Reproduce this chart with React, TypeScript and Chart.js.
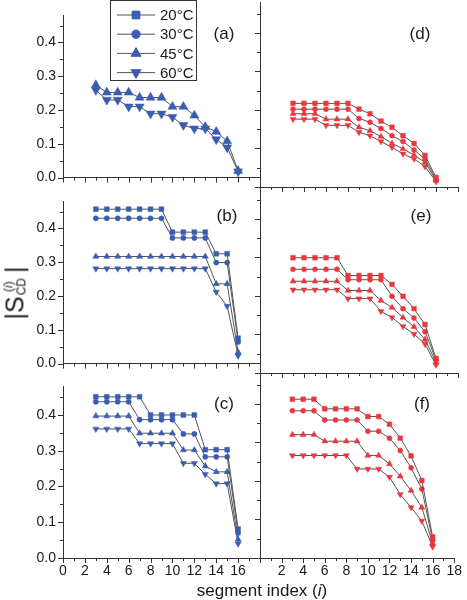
import React, { useEffect, useRef } from 'react';
import { Chart, registerables } from 'chart.js';
import { drawPoint } from 'chart.js/helpers';

Chart.register(...registerables);

// ---------- data ----------
const segments = [3, 4, 5, 6, 7, 8, 9, 10, 11, 12, 13, 14, 15, 16];
const temperatures = ['20°C', '30°C', '45°C', '60°C'];
const xTicksLeft = [0, 2, 4, 6, 8, 10, 12, 14, 16];
const xTicksRight = [2, 4, 6, 8, 10, 12, 14, 16, 18];
const yTickValues = [0, 0.1, 0.2, 0.3, 0.4];
const yTickLabels = ['0.0', '0.1', '0.2', '0.3', '0.4'];

// panel (a)
const a45 = [0.274, 0.252, 0.252, 0.252, 0.237, 0.237, 0.237, 0.210, 0.210, 0.184, 0.150, 0.136, 0.108, 0.020];
const a60 = [0.259, 0.230, 0.230, 0.210, 0.210, 0.189, 0.189, 0.179, 0.155, 0.145, 0.145, 0.113, 0.089, 0.018];
// panel (b)
const b20 = [0.457, 0.457, 0.457, 0.457, 0.457, 0.457, 0.457, 0.389, 0.389, 0.389, 0.389, 0.325, 0.325, 0.075];
const b30 = [0.430, 0.430, 0.430, 0.430, 0.430, 0.430, 0.430, 0.372, 0.372, 0.372, 0.372, 0.299, 0.299, 0.064];
const b45 = [0.317, 0.317, 0.317, 0.317, 0.317, 0.317, 0.317, 0.317, 0.317, 0.317, 0.317, 0.236, 0.236, 0.034];
const b60 = [0.281, 0.281, 0.281, 0.281, 0.281, 0.281, 0.281, 0.281, 0.281, 0.281, 0.281, 0.212, 0.170, 0.023];
// panel (c)
const c20 = [0.451, 0.451, 0.451, 0.451, 0.451, 0.400, 0.400, 0.400, 0.400, 0.400, 0.303, 0.303, 0.303, 0.081];
const c30 = [0.437, 0.437, 0.437, 0.437, 0.387, 0.387, 0.387, 0.387, 0.347, 0.347, 0.283, 0.283, 0.283, 0.070];
const c45 = [0.397, 0.397, 0.397, 0.397, 0.349, 0.349, 0.349, 0.349, 0.302, 0.302, 0.257, 0.241, 0.241, 0.052];
const c60 = [0.361, 0.361, 0.361, 0.361, 0.320, 0.320, 0.320, 0.320, 0.265, 0.265, 0.234, 0.208, 0.208, 0.040];
// panel (d)
const d20 = [0.217, 0.217, 0.217, 0.217, 0.217, 0.217, 0.202, 0.190, 0.171, 0.155, 0.133, 0.113, 0.082, 0.025];
const d30 = [0.202, 0.202, 0.202, 0.202, 0.202, 0.202, 0.178, 0.168, 0.152, 0.133, 0.118, 0.096, 0.073, 0.020];
const d45 = [0.190, 0.190, 0.190, 0.176, 0.176, 0.176, 0.155, 0.146, 0.131, 0.113, 0.099, 0.083, 0.064, 0.017];
const d60 = [0.176, 0.176, 0.176, 0.160, 0.160, 0.160, 0.142, 0.133, 0.118, 0.103, 0.086, 0.073, 0.053, 0.014];
// panel (e)
const e20 = [0.299, 0.299, 0.299, 0.299, 0.299, 0.253, 0.253, 0.253, 0.253, 0.230, 0.199, 0.167, 0.126, 0.038];
const e30 = [0.269, 0.269, 0.269, 0.269, 0.269, 0.242, 0.242, 0.242, 0.242, 0.199, 0.167, 0.143, 0.107, 0.034];
const e45 = [0.238, 0.238, 0.238, 0.238, 0.238, 0.214, 0.214, 0.214, 0.188, 0.170, 0.144, 0.120, 0.087, 0.028];
const e60 = [0.216, 0.216, 0.216, 0.216, 0.216, 0.193, 0.193, 0.193, 0.160, 0.144, 0.121, 0.101, 0.075, 0.021];
// panel (f)
const f20 = [0.412, 0.412, 0.412, 0.387, 0.387, 0.387, 0.387, 0.367, 0.367, 0.347, 0.311, 0.265, 0.201, 0.055];
const f30 = [0.382, 0.382, 0.382, 0.358, 0.358, 0.358, 0.358, 0.329, 0.329, 0.311, 0.279, 0.234, 0.179, 0.046];
const f45 = [0.320, 0.320, 0.320, 0.303, 0.303, 0.303, 0.303, 0.266, 0.266, 0.244, 0.212, 0.175, 0.131, 0.038];
const f60 = [0.266, 0.266, 0.266, 0.266, 0.266, 0.266, 0.231, 0.231, 0.231, 0.210, 0.165, 0.131, 0.096, 0.029];

// ---------- styles ----------
const FONT = '"Liberation Sans", Arial, Helvetica, sans-serif';
const BLUE = '#3a5db3';
const RED = '#ec363c';
const LINE = '#555555';
const AXIS = '#333333';
const TEXT = '#1a1a1a';
const markerStyles = ['rect', 'circle', 'triangle', 'triangle'];
const markerRotations = [0, 0, 0, 180];
const markerScale = [1.0, 0.76, 1.05, 1.05];

const colGeo = [
  { left: 0, w: 262, yW: 63, padRight: 2, showY: true, xTicks: xTicksLeft },
  { left: 240, w: 227, yW: 20, padRight: 9, showY: false, xTicks: xTicksRight },
];
const rowGeo = [
  { top: 0, h: 193, padTop: 2, xH: 6, showX: false },
  { top: 186, h: 193, padTop: 2, xH: 6, showX: false },
  { top: 371, h: 229, padTop: 2, xH: 42, showX: true },
];

type PanelDef = {
  label: string;
  series: (number[] | null)[];
  color: string;
  col: number;
  row: number;
  radius: number;
  legend?: boolean;
  lx: number;
  ly: number;
};

const panels: PanelDef[] = [
  { label: '(a)', series: [null, null, a45, a60], color: BLUE, col: 0, row: 0, radius: 5, legend: true, lx: 224, ly: 33 },
  { label: '(b)', series: [b20, b30, b45, b60], color: BLUE, col: 0, row: 1, radius: 3.4, lx: 227, ly: 215 },
  { label: '(c)', series: [c20, c30, c45, c60], color: BLUE, col: 0, row: 2, radius: 3.4, lx: 224, ly: 403 },
  { label: '(d)', series: [d20, d30, d45, d60], color: RED, col: 1, row: 0, radius: 3.3, lx: 420, ly: 33 },
  { label: '(e)', series: [e20, e30, e45, e60], color: RED, col: 1, row: 1, radius: 3.3, lx: 421, ly: 215 },
  { label: '(f)', series: [f20, f30, f45, f60], color: RED, col: 1, row: 2, radius: 3.3, lx: 422, ly: 403 },
];

const tickPlugin = {
  id: 'originTicks',
  afterDraw(chart: any) {
    const { ctx } = chart;
    const xs = chart.scales.x;
    const ys = chart.scales.y;
    ctx.save();
    ctx.strokeStyle = AXIS;
    ctx.lineWidth = 1;
    ctx.beginPath();
    for (let v = 0; v <= 18; v++) {
      const px = Math.round(xs.getPixelForValue(v)) + 0.5;
      const len = v % 2 === 0 ? 5 : 3;
      ctx.moveTo(px, ys.bottom);
      ctx.lineTo(px, ys.bottom + len);
    }
    for (let k = 0; k <= 9; k++) {
      const py = Math.round(ys.getPixelForValue(k * 0.05)) + 0.5;
      const len = k % 2 === 0 ? 5 : 3;
      ctx.moveTo(xs.left, py);
      ctx.lineTo(xs.left - len, py);
    }
    ctx.stroke();
    ctx.restore();
  },
};

const legendPlugin = {
  id: 'boxLegend',
  afterDraw(chart: any) {
    const ctx = chart.ctx;
    ctx.save();
    ctx.strokeStyle = AXIS;
    ctx.lineWidth = 1;
    ctx.strokeRect(110.5, 0.5, 86, 80);
    temperatures.forEach((t, i) => {
      const y = 15 + i * 19.2;
      ctx.strokeStyle = LINE;
      ctx.lineWidth = 1;
      ctx.beginPath();
      ctx.moveTo(117, y);
      ctx.lineTo(155, y);
      ctx.stroke();
      ctx.fillStyle = BLUE;
      ctx.strokeStyle = BLUE;
      drawPoint(
        ctx,
        { pointStyle: markerStyles[i], rotation: markerRotations[i], radius: 5.5 * markerScale[i], borderWidth: 1 } as any,
        136,
        y
      );
      ctx.fillStyle = TEXT;
      ctx.font = `15px ${FONT}`;
      ctx.textBaseline = 'middle';
      ctx.textAlign = 'left';
      ctx.fillText(t, 160, y + 1);
    });
    ctx.restore();
  },
};

function Panel({ p }: { p: PanelDef }) {
  const ref = useRef<HTMLCanvasElement | null>(null);
  const geo = colGeo[p.col];
  const rg = rowGeo[p.row];
  useEffect(() => {
    if (!ref.current) return;
    const datasets: any[] = [];
    p.series.forEach((vals, i) => {
      if (!vals) return;
      datasets.push({
        label: temperatures[i],
        data: segments.map((s, k) => ({ x: s, y: vals[k] })),
        borderColor: LINE,
        borderWidth: 1,
        backgroundColor: p.color,
        pointStyle: markerStyles[i],
        pointRotation: markerRotations[i],
        pointRadius: p.radius * markerScale[i],
        pointBackgroundColor: p.color,
        pointBorderColor: p.color,
        pointBorderWidth: 0.5,
        tension: 0,
        fill: false,
      });
    });
    const tickFont = { family: FONT, size: 14 };
    const chart = new Chart(ref.current, {
      type: 'line',
      data: { datasets },
      options: {
        animation: false,
        responsive: false,
        devicePixelRatio: 1,
        events: [],
        clip: false,
        layout: { autoPadding: false, padding: { top: rg.padTop, right: geo.padRight, left: 0, bottom: 0 } },
        plugins: { legend: { display: false }, tooltip: { enabled: false }, title: { display: false } },
        scales: {
          x: {
            type: 'linear',
            min: 0,
            max: 18,
            afterBuildTicks: (s: any) => {
              s.ticks = geo.xTicks.map((v) => ({ value: v }));
            },
            afterFit: (s: any) => {
              s.height = rg.xH;
            },
            ticks: {
              display: rg.showX,
              autoSkip: false,
              maxRotation: 0,
              padding: 5,
              color: TEXT,
              font: tickFont,
              callback: (v: any) => String(v),
            },
            grid: { display: true, drawOnChartArea: false, drawTicks: false },
            border: { display: true, color: AXIS, width: 1 },
          },
          y: {
            type: 'linear',
            min: 0,
            max: 0.48,
            afterBuildTicks: (s: any) => {
              s.ticks = yTickValues.map((v) => ({ value: v }));
            },
            afterFit: (s: any) => {
              s.width = geo.yW;
            },
            ticks: {
              display: geo.showY,
              autoSkip: false,
              padding: 7,
              color: TEXT,
              font: tickFont,
              callback: (_v: any, i: number) => yTickLabels[i],
            },
            grid: { display: true, drawOnChartArea: false, drawTicks: false },
            border: { display: true, color: AXIS, width: 1 },
          },
        },
      } as any,
      plugins: p.legend ? [tickPlugin, legendPlugin] : [tickPlugin],
    });
    return () => chart.destroy();
  }, []);
  return (
    <canvas
      ref={ref}
      width={geo.w}
      height={rg.h}
      style={{ position: 'absolute', left: geo.left, top: rg.top, width: geo.w, height: rg.h }}
    />
  );
}

export default function App() {
  return (
    <div
      style={{
        position: 'absolute',
        left: 0,
        top: 0,
        width: 467,
        height: 600,
        background: '#ffffff',
        overflow: 'hidden',
        fontFamily: FONT,
        color: TEXT,
      }}
    >
      {panels.map((p) => (
        <Panel key={p.label} p={p} />
      ))}
      {panels.map((p) => (
        <div
          key={'lab' + p.label}
          style={{
            position: 'absolute',
            left: p.lx,
            top: p.ly,
            transform: 'translate(-50%, -50%)',
            fontSize: 17,
            lineHeight: 1,
            whiteSpace: 'nowrap',
          }}
        >
          {p.label}
        </div>
      ))}
      <div
        style={{
          position: 'absolute',
          left: 15,
          top: 293,
          transform: 'translate(-50%, -50%) rotate(-90deg)',
          display: 'flex',
          alignItems: 'center',
          whiteSpace: 'nowrap',
          fontSize: 25,
          lineHeight: 1,
        }}
      >
        <span>|S</span>
        <span
          style={{
            display: 'inline-flex',
            flexDirection: 'column',
            fontSize: 12,
            lineHeight: 1.05,
            marginLeft: 1,
            alignItems: 'center',
          }}
        >
          <span>
            (<i>i</i>)
          </span>
          <span>CD</span>
        </span>
        <span style={{ marginLeft: 5 }}>|</span>
      </div>
      <div
        style={{
          position: 'absolute',
          left: 262,
          top: 590,
          transform: 'translate(-50%, -50%)',
          fontSize: 17,
          lineHeight: 1,
          whiteSpace: 'nowrap',
        }}
      >
        segment index (<i>i</i>)
      </div>
    </div>
  );
}
